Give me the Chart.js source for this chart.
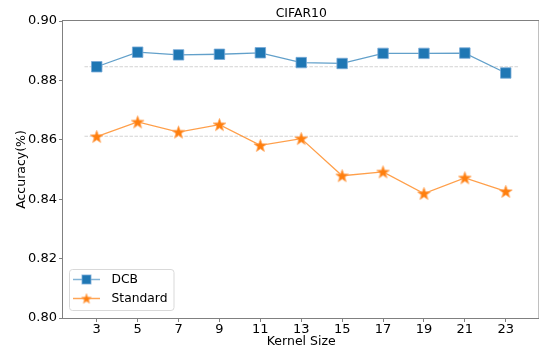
<!DOCTYPE html>
<html>
<head>
<meta charset="utf-8">
<script src="https://cdn.jsdelivr.net/npm/chart.js@4.4.0/dist/chart.umd.min.js"></script>
<style>
    html, body { margin: 0; padding: 0; background: #fff; overflow: hidden; }
</style>
</head>
<body>
<canvas id="myChart" width="548" height="353"></canvas>
<script>
// values
var kernelSizes = [3, 5, 7, 9, 11, 13, 15, 17, 19, 21, 23];
var dcbAcc = [0.8846, 0.8895, 0.8886, 0.8888, 0.8893, 0.8860, 0.8857, 0.8891, 0.8891, 0.8892, 0.8825];
var standardAcc = [0.8611, 0.8660, 0.8626, 0.8651, 0.8581, 0.8604, 0.8479, 0.8492, 0.8419, 0.8472, 0.8426];
var dcbBaseline = 0.8846;
var standardBaseline = 0.8612;
var baselineSpan = [2.4, 23.6];
var yTicks = [0.80, 0.82, 0.84, 0.86, 0.88, 0.90];
var titleText = "CIFAR10";

var BLUE = '#1f77b4';
var ORANGE = '#ff7f0e';
var FONT = "'DejaVu Sans', sans-serif";

function makeStar(size, fill, stroke) {
    let c = document.createElement('canvas');
    c.width = size;
    c.height = size;
    let g = c.getContext('2d');
    let cx = size / 2, cy = size / 2 + 0.5;
    let outer = size / 2 - 0.8, inner = outer * 0.42;
    g.beginPath();
    for (let i = 0; i < 10; i++) {
        let r = (i % 2 == 0) ? outer : inner;
        let a = -Math.PI / 2 + i * Math.PI / 5;
        let px = cx + r * Math.cos(a), py = cy + r * Math.sin(a);
        if (i == 0) g.moveTo(px, py); else g.lineTo(px, py);
    }
    g.closePath();
    g.fillStyle = fill;
    g.fill();
    g.strokeStyle = stroke;
    g.lineWidth = 1;
    g.stroke();
    return c;
}

var star = makeStar(15, ORANGE, 'rgba(255,170,100,0.8)');
var smallStar = makeStar(12, ORANGE, 'rgba(255,170,100,0.8)');

function pts(xs, ys) {
    let out = [];
    for (let i = 0; i < xs.length; i++) out.push({ x: xs[i], y: ys[i] });
    return out;
}

function hline(y) {
    return [{ x: baselineSpan[0], y: y }, { x: baselineSpan[1], y: y }];
}

var framePlugin = {
    id: 'frame',
    afterDraw(chart) {
        let ctx = chart.ctx;
        let a = chart.chartArea;
        ctx.save();
        ctx.strokeStyle = '#808080';
        ctx.lineWidth = 1;
        ctx.strokeRect(a.left - 0.5, a.top - 0.5, a.right - a.left, a.bottom - a.top + 1);

        // title
        ctx.fillStyle = '#000';
        ctx.font = "12.4px " + FONT;
        ctx.textAlign = 'center';
        ctx.textBaseline = 'middle';
        ctx.fillText(titleText, (a.left + a.right) / 2, 13.5);

        // legend box
        let bx = 69.5, by = 269.5, bw = 104.5, bh = 41;
        ctx.beginPath();
        ctx.roundRect(bx, by, bw, bh, 3);
        ctx.fillStyle = 'rgba(255,255,255,0.8)';
        ctx.fill();
        ctx.strokeStyle = '#d9d9d9';
        ctx.stroke();

        let items = [
            { label: 'DCB', color: 'rgba(31,119,180,0.55)', y: 279.5, mark: 'rect' },
            { label: 'Standard', color: 'rgba(255,127,14,0.7)', y: 298.5, mark: 'star' }
        ];
        items.forEach(function (it) {
            ctx.beginPath();
            ctx.moveTo(73, it.y);
            ctx.lineTo(100, it.y);
            ctx.strokeStyle = it.color;
            ctx.lineWidth = 1.5;
            ctx.stroke();
            if (it.mark == 'rect') {
                ctx.fillStyle = BLUE;
                ctx.fillRect(82, it.y - 4.5, 9, 9);
                ctx.strokeStyle = 'rgba(120,170,215,0.8)';
                ctx.lineWidth = 1;
                ctx.strokeRect(82, it.y - 4.5, 9, 9);
            } else {
                ctx.drawImage(smallStar, 86.5 - 6, it.y - 6);
            }
            ctx.fillStyle = '#000';
            ctx.font = "12.3px " + FONT;
            ctx.textAlign = 'left';
            ctx.textBaseline = 'middle';
            ctx.fillText(it.label, 111.5, it.y);
        });
        ctx.restore();
    }
};

const ctx = document.getElementById('myChart').getContext('2d');
var myChart = new Chart(ctx, {
    type: 'line',
    data: {
        datasets: [
            {
                label: 'DCB base',
                data: hline(dcbBaseline),
                borderColor: '#d3d3d3',
                borderWidth: 1,
                borderDash: [3.5, 1.5],
                pointRadius: 0,
                order: 5
            },
            {
                label: 'Standard base',
                data: hline(standardBaseline),
                borderColor: '#d3d3d3',
                borderWidth: 1,
                borderDash: [3.5, 1.5],
                pointRadius: 0,
                order: 4
            },
            {
                label: 'DCB',
                data: pts(kernelSizes, dcbAcc),
                borderColor: 'rgba(31,119,180,0.7)',
                borderWidth: 1.3,
                pointStyle: 'rect',
                pointRadius: 7.4,
                pointBackgroundColor: BLUE,
                pointBorderColor: 'rgba(120,170,215,0.8)',
                pointBorderWidth: 1,
                order: 2
            },
            {
                label: 'Standard',
                data: pts(kernelSizes, standardAcc),
                borderColor: 'rgba(255,127,14,0.75)',
                borderWidth: 1.3,
                pointStyle: star,
                pointRadius: 7,
                order: 1
            }
        ]
    },
    options: {
        responsive: false,
        animation: false,
        layout: { padding: { top: 21, right: 8.5, left: 0, bottom: 0 } },
        plugins: {
            legend: { display: false },
            tooltip: { enabled: false }
        },
        scales: {
            x: {
                type: 'linear',
                min: 1.35,
                max: 24.65,
                afterBuildTicks: function (scale) {
                    scale.ticks = kernelSizes.map(function (v) { return { value: v }; });
                },
                afterFit: function (scale) { scale.height = 35; },
                grid: { display: true, drawOnChartArea: false, drawTicks: true, tickLength: 4, color: '#808080' },
                border: { display: false },
                ticks: { color: '#000', font: { family: FONT, size: 13 }, padding: 0, maxRotation: 0 },
                title: { display: true, text: 'Kernel Size', color: '#000', font: { family: FONT, size: 12.5 }, padding: { top: 0, bottom: 4.2 } }
            },
            y: {
                min: 0.80,
                max: 0.90,
                afterBuildTicks: function (scale) {
                    scale.ticks = yTicks.map(function (v) { return { value: v }; });
                },
                afterFit: function (scale) { scale.width = 63; },
                grid: { display: true, drawOnChartArea: false, drawTicks: true, tickLength: 4, color: '#808080' },
                border: { display: false },
                ticks: {
                    color: '#000',
                    font: { family: FONT, size: 13 },
                    padding: 2,
                    callback: function (v) { return v.toFixed(2); }
                },
                title: { display: true, text: 'Accuracy(%)', color: '#000', font: { family: FONT, size: 12.5 }, padding: { top: 14, bottom: 0 } }
            }
        }
    },
    plugins: [framePlugin]
});
</script>
</body>
</html>
